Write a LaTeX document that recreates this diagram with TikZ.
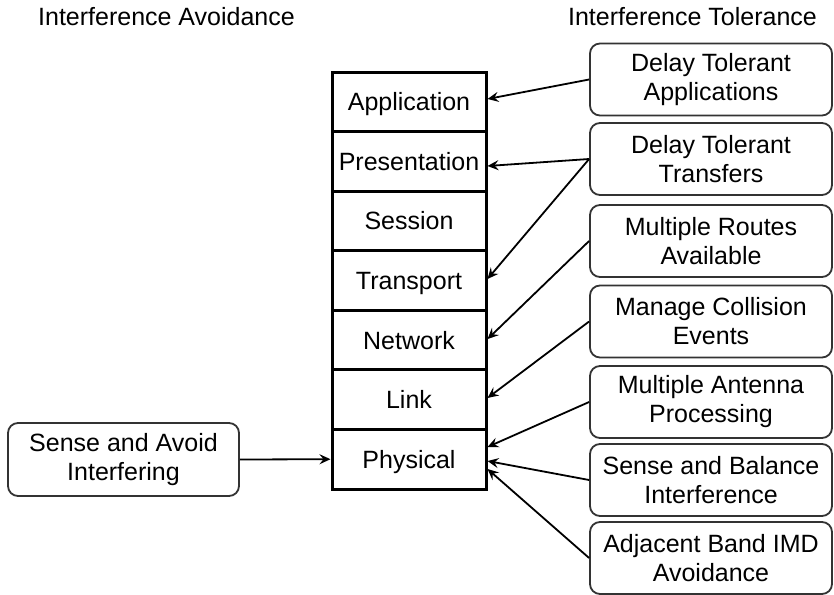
\documentclass[tikz,border=0pt]{standalone}
\usepackage{fontspec}
\setmainfont{Liberation Sans}
\usetikzlibrary{arrows.meta}
\begin{document}
\begin{tikzpicture}[x=1pt,y=-1pt,
  every node/.style={font=\fontsize{25}{29}\selectfont},
  layer/.style={draw=black,line width=3pt,minimum width=154pt,minimum height=59.6pt,
    inner sep=0pt,text height=22pt,text depth=4pt},
  cause/.style={draw=black!80,line width=1.8pt,rounded corners=10pt,
    minimum width=242pt,minimum height=72pt,align=center,inner sep=0pt},
  link/.style={line width=1.8pt,-{Stealth[length=11pt,width=10pt,inset=4pt]}},
  heading/.style={anchor=base,inner sep=0pt}]
\useasboundingbox (0,0) rectangle (834,594);

% column headings
\node[heading] (hav) at (166.5,26) {Interference Avoidance};
\node[heading] (hto) at (692.5,26) {Interference Tolerance};

% OSI layer stack
\node[layer] (app)   at (409,101.8) {Application};
\node[layer] (pres)  at (409,161.4) {Presentation};
\node[layer] (sess)  at (409,220.9) {Session};
\node[layer] (trans) at (409,280.5) {Transport};
\node[layer] (net)   at (409,340.1) {Network};
\node[layer] (lnk)   at (409,399.6) {Link};
\node[layer] (phys)  at (409,459.2) {Physical};

% tolerance techniques
\node[cause] (b1) at (711,79.5)  {Delay Tolerant\\Applications};
\node[cause] (b2) at (711,159)   {Delay Tolerant\\Transfers};
\node[cause] (b3) at (711,241)   {Multiple Routes\\Available};
\node[cause] (b4) at (711,321.5) {Manage Collision\\Events};
\node[cause] (b5) at (711,402)   {Multiple Antenna\\Processing};
\node[cause] (b6) at (711,480)   {Sense and Balance\\Interference};
\node[cause] (b7) at (711,558)   {Adjacent Band IMD\\Avoidance};

% avoidance technique
\node[cause,minimum width=231pt,minimum height=73pt] (sa) at (123.5,459.5) {Sense and Avoid\\Interfering};

% connectors
\draw[link] (b1.west) -- ([yshift=2.8pt]app.east);
\draw[link] (b2.west) -- ([yshift=-4.6pt]pres.east);
\draw[link] (b2.west) -- ([yshift=1.5pt]trans.east);
\draw[link] (b3.west) -- ([yshift=1pt]net.east);
\draw[link] (b4.west) -- ([yshift=1.6pt]lnk.east);
\draw[link] (b5.west) -- ([yshift=12.2pt]phys.east);
\draw[link] (b6.west) -- ([yshift=-1.8pt]phys.east);
\draw[link] (b7.west) -- ([yshift=-9.8pt]phys.east);
\draw[link] (sa.east) -- (phys.west);
\end{tikzpicture}
\end{document}
